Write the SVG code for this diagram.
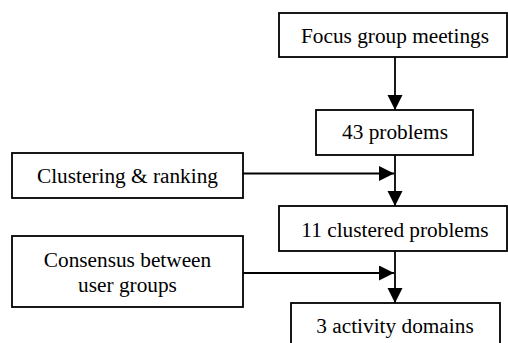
<svg xmlns="http://www.w3.org/2000/svg" width="508" height="343" viewBox="0 0 508 343">
<style>
.box{fill:#fff;stroke:#000;stroke-width:1.8}
.t{font-family:'Liberation Serif',serif;font-size:21.3px;fill:#000;text-anchor:middle}
.c{stroke:#000;stroke-width:1.8;fill:none;marker-end:url(#ah)}
</style>
<defs>
<marker id="ah" markerUnits="userSpaceOnUse" markerWidth="16" markerHeight="16" refX="15" refY="7.5" orient="auto" viewBox="0 0 16 16">
<path d="M0,0 L15,7.5 L0,15 Z" fill="#000"/>
</marker>
</defs>
<rect width="508" height="343" fill="#fff"/>
<g id="connectors">
<line class="c" x1="395" y1="57" x2="395" y2="110"/>
<line class="c" x1="395" y1="155" x2="395" y2="206"/>
<line class="c" x1="395" y1="251" x2="395" y2="303"/>
<line class="c" x1="243" y1="173.5" x2="394" y2="173.5"/>
<line class="c" x1="243" y1="273" x2="394" y2="273"/>
</g>
<g id="focus">
<rect class="box" x="279" y="13" width="228" height="44"/>
<text class="t" x="395" y="43">Focus group meetings</text>
</g>
<g id="problems43">
<rect class="box" x="316" y="110" width="157" height="45"/>
<text class="t" x="395" y="139">43 problems</text>
</g>
<g id="clustering">
<rect class="box" x="12" y="153" width="231" height="45"/>
<text class="t" x="127.5" y="182.5">Clustering &amp; ranking</text>
</g>
<g id="clustered11">
<rect class="box" x="279" y="206" width="228" height="45"/>
<text class="t" x="395" y="236.5">11 clustered problems</text>
</g>
<g id="consensus">
<rect class="box" x="12" y="236" width="231" height="71"/>
<text class="t" x="127.5" y="266.7">Consensus between</text>
<text class="t" x="127.5" y="291.7">user groups</text>
</g>
<g id="domains">
<rect class="box" x="291" y="303" width="209" height="45"/>
<text class="t" x="395" y="333.3">3 activity domains</text>
</g>
</svg>
